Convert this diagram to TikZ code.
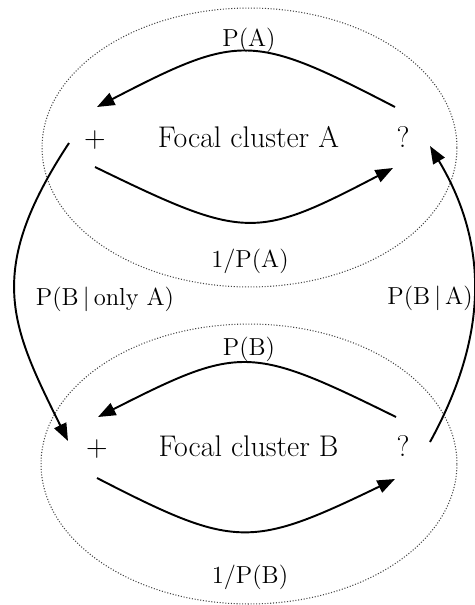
\documentclass[tikz,border=0pt]{standalone}
\usepackage{tikz}
\usetikzlibrary{arrows.meta,positioning}
\definecolor{RingGrey}{RGB}{70, 70, 70}

\tikzset{
  ring/.style={densely dotted, line width=0.6pt, RingGrey},
  flow/.style={line width=1.1pt, -{Triangle[length=10pt, width=7.5pt]}},
  main/.style={anchor=base, inner sep=0pt, font=\fontsize{17}{20}\selectfont},
  prob/.style={anchor=base, inner sep=0pt, font=\fontsize{14}{17}\selectfont}
}

\begin{document}
\begin{tikzpicture}[x=0.02cm, y=-0.02cm]
    \useasboundingbox (0,0) rectangle (475,605);

    % Clusters
    \draw[ring] (249.5,147.5) ellipse [x radius=4.15cm, y radius=2.79cm];
    \draw[ring] (249,464) ellipse [x radius=4.16cm, y radius=2.8cm];

    % Cluster A
    \node[main] (plusA) at (95,147) {+};
    \node[main] (focalA) at (248.5,147) {Focal cluster A};
    \node[main] (askA) at (403,147) {?};
    \node[prob] (pA) at (249,46) {P(A)};
    \node[prob] (invA) at (250,267) {1/P(A)};

    % Cluster B
    \node[main] (plusB) at (97,456) {+};
    \node[main] (focalB) at (248.5,456) {Focal cluster B};
    \node[main] (askB) at (403,456) {?};
    \node[prob] (pB) at (249,355) {P(B)};
    \node[prob] (invB) at (250,583) {1/P(B)};

    % Links between clusters
    \node[prob] (onlyA) at (105,305) {P(B\,\textbar\,only A)};
    \node[prob] (givenA) at (430,304) {P(B\,\textbar\,A)};

    % Arrow ends
    \coordinate (askAtop) at (395,107);
    \coordinate (plusAtop) at (97,107);
    \coordinate (plusAbot) at (95,167);
    \coordinate (askAbot) at (393,168);
    \coordinate (plusAout) at (69,143);
    \coordinate (askAin) at (430,146);
    \coordinate (askBtop) at (396,417);
    \coordinate (plusBtop) at (98,417);
    \coordinate (plusBbot) at (97,478);
    \coordinate (askBbot) at (395,479);
    \coordinate (plusBin) at (68,441);
    \coordinate (askBout) at (430,442);

    % Loops inside A
    \draw[flow] (askAtop) .. controls (252,33) and (240,33) .. (plusAtop);
    \draw[flow] (plusAbot) .. controls (245,240) and (255,240) .. (askAbot);

    % Loops inside B
    \draw[flow] (askBtop) .. controls (250,345) and (240,345) .. (plusBtop);
    \draw[flow] (plusBbot) .. controls (235,549) and (250,549) .. (askBbot);

    % A to B and back
    \draw[flow] (plusAout) .. controls (-16,272) and (11,326) .. (plusBin);
    \draw[flow] (askBout) .. controls (486,340) and (491,248) .. (askAin);
\end{tikzpicture}
\end{document}
